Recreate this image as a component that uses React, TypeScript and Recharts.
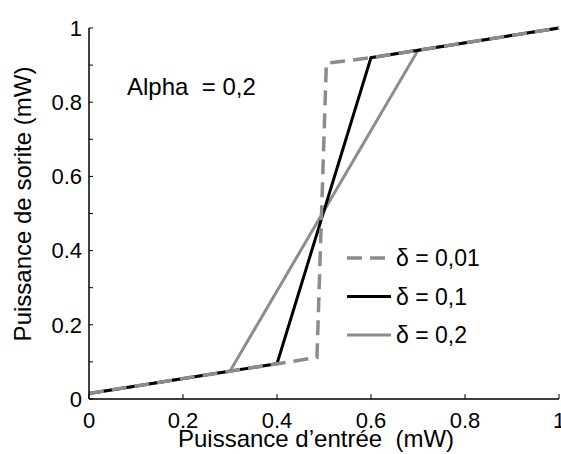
import { LineChart, Line, XAxis, YAxis } from 'recharts';

// courbes de transfert
const xDelta001 = [0, 0.485, 0.505, 0.6, 1];
const yDelta001 = [0.015, 0.112, 0.905, 0.92, 1];
const xDelta01 = [0, 0.4, 0.6, 1];
const yDelta01 = [0.015, 0.095, 0.92, 1];
const xDelta02 = [0, 0.3, 0.7, 1];
const yDelta02 = [0.015, 0.075, 0.94, 1];

const xTicks = [0, 0.2, 0.4, 0.6, 0.8, 1];
const yTicks = [0, 0.1, 0.2, 0.3, 0.4, 0.5, 0.6, 0.7, 0.8, 0.9, 1];

const seriesNames = ['δ = 0,01', 'δ = 0,1', 'δ = 0,2'];

const GRAY = '#8c8c8c';
const FONT = '"Liberation Sans", Arial, sans-serif';

const toPoints = (xs: number[], ys: number[]) => xs.map((x, i) => ({ x, y: ys[i] }));

const series = [
    { name: seriesNames[2], data: toPoints(xDelta02, yDelta02), color: GRAY, width: 3, dash: undefined },
    { name: seriesNames[1], data: toPoints(xDelta01, yDelta01), color: '#000', width: 3, dash: undefined },
    { name: seriesNames[0], data: toPoints(xDelta001, yDelta001), color: GRAY, width: 3.5, dash: '15 8' },
];

const fmtTick = (v: number) => {
    if (Math.round(v * 10) % 2 !== 0) return '';
    if (v === 0) return '0';
    if (v === 1) return '1';
    return v.toFixed(1);
};

function LegendBox() {
    const items = [series[2], series[1], series[0]];
    return (
        <g transform="translate(345, 258)">
            {items.map((s, i) => (
                <g key={s.name} transform={`translate(0, ${i * 38.5})`}>
                    <line x1={2} x2={46} y1={0} y2={0} stroke={s.color} strokeWidth={s.width} strokeDasharray={s.dash} />
                    <text x={51} y={8} fontSize={23} fontFamily={FONT} fill="#000">{s.name}</text>
                </g>
            ))}
        </g>
    );
}

export default function App() {
    const tickStyle = { fill: '#000', fontSize: 22, fontFamily: FONT };
    return (
        <div style={{ position: 'absolute', left: 0, top: 0, width: 561, height: 454, background: '#fff' }}>
            <LineChart width={561} height={454} margin={{ top: 28, right: 2, left: 0, bottom: 0 }}>
                <XAxis
                    type="number"
                    dataKey="x"
                    domain={[0, 1]}
                    ticks={xTicks}
                    height={55}
                    tickSize={-5}
                    tickMargin={18}
                    tick={tickStyle}
                    tickFormatter={fmtTick}
                    axisLine={{ stroke: '#000', strokeWidth: 1.5 }}
                    tickLine={{ stroke: '#000', strokeWidth: 1 }}
                    interval={0}
                />
                <YAxis
                    type="number"
                    dataKey="y"
                    domain={[0, 1]}
                    ticks={yTicks}
                    width={89}
                    tickSize={-4}
                    tickMargin={11}
                    tick={tickStyle}
                    tickFormatter={fmtTick}
                    axisLine={{ stroke: '#000', strokeWidth: 1.5 }}
                    tickLine={{ stroke: '#000', strokeWidth: 1 }}
                    interval={0}
                />
                {series.map(s => (
                    <Line
                        key={s.name}
                        data={s.data}
                        dataKey="y"
                        type="linear"
                        stroke={s.color}
                        strokeWidth={s.width}
                        strokeDasharray={s.dash}
                        dot={false}
                        activeDot={false}
                        isAnimationActive={false}
                    />
                ))}
                <LegendBox />
                <text x={127} y={95} fontSize={24} fontFamily={FONT} fill="#000" style={{ whiteSpace: 'pre' }}>Alpha  = 0,2</text>
                <text x={316} y={447} fontSize={24} fontFamily={FONT} fill="#000" textAnchor="middle" style={{ whiteSpace: 'pre' }}>
                    Puissance d’entrée  (mW)
                </text>
                <text
                    x={0}
                    y={0}
                    transform="translate(31, 204) rotate(-90)"
                    fontSize={24}
                    fontFamily={FONT}
                    fill="#000"
                    textAnchor="middle"
                >
                    Puissance de sorite (mW)
                </text>
            </LineChart>
        </div>
    );
}
